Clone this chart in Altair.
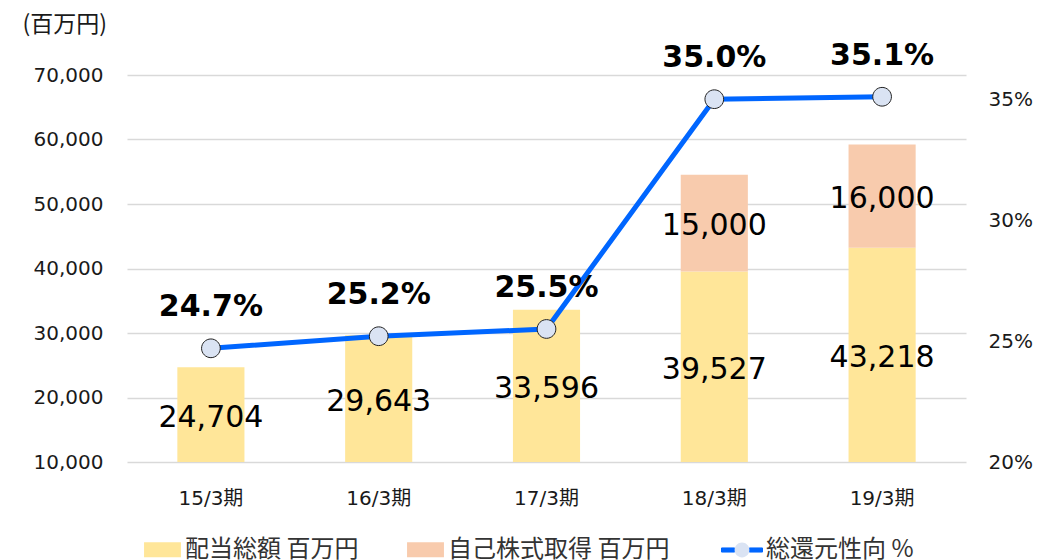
import altair as alt
import pandas as pd

# ---- data ----
periods = ["15/3期", "16/3期", "17/3期", "18/3期", "19/3期"]
dividends = [24704, 29643, 33596, 39527, 43218]          # 配当総額 百万円
buybacks = [0, 0, 0, 15000, 16000]                        # 自己株式取得 百万円
payout_ratio = [24.7, 25.2, 25.5, 35.0, 35.1]             # 総還元性向 %
bar_series = ["配当総額 百万円", "自己株式取得 百万円"]
line_series = "総還元性向 %"
left_ticks = [10000, 20000, 30000, 40000, 50000, 60000, 70000]
right_ticks = [20, 25, 30, 35]
left_domain = [10000, 70000]
right_domain = [20, 36]

# ---- styling ----
YELLOW = "#FFE699"
PEACH = "#F8CBAD"
BLUE = "#0066FF"
LIGHT = "#DAE3F3"
TXT = "#1a1a1a"
LEG_TXT = "#333333"
NUM_FONT = "DejaVu Sans"
JP_FONT = "Noto Sans CJK JP"
MIX_FONT = "DejaVu Sans, Noto Sans CJK JP"

bar_rows = []
for i, p in enumerate(periods):
    bar_rows.append(dict(period=p, series=bar_series[0], value=dividends[i], order=0))
    bar_rows.append(dict(period=p, series=bar_series[1], value=buybacks[i], order=1))
bar_df = pd.DataFrame(bar_rows)
line_df = pd.DataFrame(dict(period=periods, ratio=payout_ratio,
                            series=[line_series] * len(periods),
                            marker=["pt"] * len(periods)))

x_enc = alt.X(
    "period:N", sort=periods,
    scale=alt.Scale(paddingInner=0.6, paddingOuter=0.3),
    axis=alt.Axis(title=None, labelAngle=0, domain=False, ticks=False, grid=False,
                  labelPadding=26, labelFontSize=20, labelFont=MIX_FONT, labelColor=TXT),
)

left_scale = alt.Scale(domain=left_domain, nice=False, zero=False)
left_axis = alt.Axis(
    values=left_ticks, labelExpr="format(datum.value, ',')", title="(百万円)",
    titleAngle=0, titleAlign="left",
    titleBaseline="middle", titleX=-105, titleY=-51, titleFont=JP_FONT, titleFontSize=23,
    titleFontWeight="normal", titleColor=TXT,
    labelFont=NUM_FONT, labelFontSize=20, labelPadding=24, labelColor=TXT,
    domain=False, ticks=False, grid=True, gridColor="#D9D9D9", gridWidth=1.5,
)

BAR_PATH = "M-0.9,-0.37H0.9V0.37H-0.9Z"
LINE_PATH = "M-1,-0.1H-0.36V0.1H-1Z M0.36,-0.1H1V0.1H0.36Z"
CIRCLE_PATH = "M0.36,0A0.36,0.36,0,1,1,-0.36,0A0.36,0.36,0,1,1,0.36,0Z"

bar_legend = alt.Legend(
    orient="none", legendX=15, legendY=454, direction="horizontal", columns=2, title=None,
    symbolType=BAR_PATH, symbolSize=1681, symbolStrokeWidth=0, symbolOpacity=1,
    labelFont=JP_FONT, labelFontSize=24, labelColor=LEG_TXT, labelOffset=2,
    columnPadding=46, labelLimit=400,
)
line_legend = alt.Legend(
    orient="none", legendX=594, legendY=454, direction="horizontal", title=None,
    symbolType=LINE_PATH, symbolSize=1681, symbolStrokeWidth=1, symbolStrokeColor=BLUE,
    symbolFillColor=BLUE, symbolOpacity=1, labelFont=JP_FONT, labelFontSize=24,
    labelColor=LEG_TXT, labelOffset=3, labelLimit=400, zindex=1,
)
marker_legend = alt.Legend(
    orient="none", legendX=594, legendY=454, direction="horizontal", title=None,
    symbolType=CIRCLE_PATH, symbolSize=1681, symbolStrokeWidth=1, symbolStrokeColor="#222222",
    symbolFillColor=LIGHT, symbolOpacity=1, labelFont=JP_FONT, labelFontSize=24,
    labelColor="transparent", labelExpr="''", labelOffset=3, zindex=2,
)

stacked = alt.Chart(bar_df).transform_stack(
    stack="value", groupby=["period"], as_=["v0", "v1"],
    sort=[alt.SortField("order", order="ascending")],
).transform_calculate(mid=f"(max(datum.v0,{left_domain[0]})+datum.v1)/2")

bars = stacked.mark_bar(clip=True).encode(
    x=x_enc,
    y=alt.Y("v1:Q", scale=left_scale, axis=left_axis),
    y2="v0:Q",
    color=alt.Color("series:N", scale=alt.Scale(domain=bar_series, range=[YELLOW, PEACH]),
                    legend=bar_legend),
)

bar_labels = stacked.transform_filter("datum.value > 0").mark_text(
    font=NUM_FONT, fontSize=30, color="#000", baseline="middle", dy=3
).encode(
    x=x_enc,
    y=alt.Y("mid:Q", scale=left_scale, axis=left_axis),
    text=alt.Text("value:Q", format=","),
)

right_scale = alt.Scale(domain=right_domain, nice=False, zero=False)
right_axis = alt.Axis(
    orient="right", values=right_ticks, labelExpr="datum.value + '%'", title=None,
    grid=False, domain=False, ticks=False, labelPadding=22, labelFont=NUM_FONT,
    labelFontSize=20, labelColor=TXT,
)

line_base = alt.Chart(line_df).transform_calculate(
    label="format(datum.ratio, '.1f') + '%'"
)
line = line_base.mark_line(strokeWidth=5).encode(
    x=x_enc, y=alt.Y("ratio:Q", scale=right_scale, axis=right_axis),
    stroke=alt.Stroke("series:N", scale=alt.Scale(domain=[line_series], range=[BLUE]),
                      legend=line_legend),
)
# circle path has radius 0.36 of the unit symbol, so the size is scaled up to match
pts = line_base.mark_point(filled=True, fill=LIGHT, stroke="#222222", strokeWidth=1,
                           size=2700, opacity=1).encode(
    x=x_enc, y=alt.Y("ratio:Q", scale=right_scale, axis=right_axis),
    shape=alt.Shape("marker:N", scale=alt.Scale(domain=["pt"], range=[CIRCLE_PATH]),
                    legend=marker_legend),
)
pct = line_base.mark_text(font=NUM_FONT, fontSize=30, fontWeight="bold", color="#000",
                          baseline="middle", dy=-41).encode(
    x=x_enc, y=alt.Y("ratio:Q", scale=right_scale, axis=right_axis), text="label:N"
)

chart = alt.layer(
    alt.layer(bars, bar_labels),
    alt.layer(line, pts, pct),
).resolve_scale(y="independent").properties(
    width=839, height=387,
    autosize=alt.AutoSizeParams(type="none"),
    padding={"left": 119, "top": 67, "right": 70, "bottom": 112},
).configure_view(stroke=None)

chart.save("out.html", embed_options={"renderer": "svg", "actions": False})
